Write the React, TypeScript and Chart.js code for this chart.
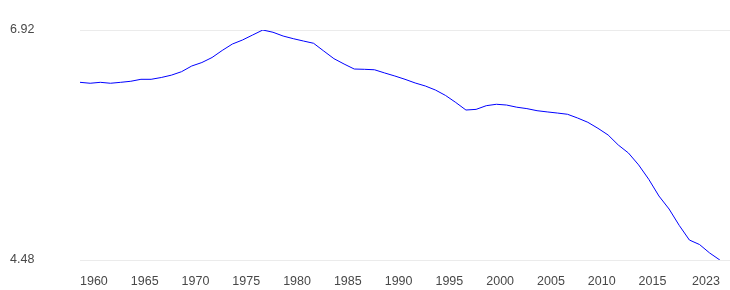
import React, { useEffect, useRef } from "react";
import { Chart, registerables } from "chart.js";

Chart.register(...registerables);

const years = [
  1960, 1961, 1962, 1963, 1964, 1965, 1966, 1967, 1968, 1969,
  1970, 1971, 1972, 1973, 1974, 1975, 1976, 1977, 1978, 1979,
  1980, 1981, 1982, 1983, 1984, 1985, 1986, 1987, 1988, 1989,
  1990, 1991, 1992, 1993, 1994, 1995, 1996, 1997, 1998, 1999,
  2000, 2001, 2002, 2003, 2004, 2005, 2006, 2007, 2008, 2009,
  2010, 2011, 2012, 2013, 2014, 2015, 2016, 2017, 2018, 2019,
  2020, 2021, 2022, 2023,
];

const values = [
  6.365, 6.355, 6.365, 6.355, 6.365, 6.376, 6.397, 6.397, 6.416, 6.441,
  6.478, 6.538, 6.575, 6.628, 6.703, 6.771, 6.814, 6.867, 6.92, 6.896,
  6.856, 6.828, 6.803, 6.779, 6.697, 6.616, 6.559, 6.506, 6.503, 6.498,
  6.464, 6.432, 6.397, 6.358, 6.326, 6.283, 6.225, 6.151, 6.071, 6.078,
  6.117, 6.132, 6.124, 6.101, 6.086, 6.064, 6.051, 6.039, 6.026, 5.986,
  5.941, 5.877, 5.806, 5.70, 5.615, 5.489, 5.336, 5.159, 5.021, 4.847,
  4.692, 4.644, 4.554, 4.48,
];

const xTickYears = [1960, 1965, 1970, 1975, 1980, 1985, 1990, 1995, 2000, 2005, 2010, 2015, 2023];
const yTickValues = [4.48, 6.92];

const FONT = 'Arial, "Liberation Sans", sans-serif';

const lastLabelRight = {
  id: "lastLabelRight",
  beforeDraw(chart: any) {
    const scale = chart.scales.x;
    if (!scale || typeof scale.getLabelItems !== "function") return;
    const items = scale.getLabelItems();
    if (items && items.length) {
      items[items.length - 1].options.textAlign = "right";
    }
  },
};

export default function App() {
  const ref = useRef<HTMLCanvasElement | null>(null);

  useEffect(() => {
    if (!ref.current) return;
    const chart = new Chart(ref.current, {
      type: "line",
      data: {
        datasets: [
          {
            data: years.map((y, i) => ({ x: y, y: values[i] })),
            borderColor: "#0000ff",
            borderWidth: 1,
            pointRadius: 0,
            pointHoverRadius: 0,
            tension: 0,
            fill: false,
          },
        ],
      },
      options: {
        animation: false,
        responsive: true,
        maintainAspectRatio: false,
        layout: { padding: { left: 10, right: 0, top: 30, bottom: 0 } },
        plugins: { legend: { display: false }, tooltip: { enabled: false } },
        scales: {
          x: {
            type: "linear",
            min: 1960,
            max: 2024,
            afterBuildTicks: (scale: any) => {
              scale.ticks = xTickYears.map((v) => ({ value: v }));
            },
            afterFit: (scale: any) => {
              scale.height = 30;
              scale.paddingLeft = 0;
              scale.paddingRight = 0;
            },
            ticks: {
              align: "start",
              maxRotation: 0,
              autoSkip: false,
              padding: 14,
              color: "#484848",
              font: { family: FONT, size: 12.5 },
              callback: (v: any) => String(v),
            },
            grid: { display: false, drawTicks: false },
            border: { display: false },
          },
          y: {
            min: 4.48,
            max: 6.92,
            afterBuildTicks: (scale: any) => {
              scale.ticks = yTickValues.map((v) => ({ value: v }));
            },
            afterFit: (scale: any) => {
              scale.width = 70;
              scale.paddingTop = 0;
              scale.paddingBottom = 0;
            },
            ticks: {
              crossAlign: "far",
              padding: 0,
              color: "#484848",
              font: { family: FONT, size: 12.5 },
              callback: (v: any) => Number(v).toFixed(2),
            },
            grid: { color: "#ebebeb", lineWidth: 1, drawTicks: false },
            border: { display: false },
          },
        },
      },
      plugins: [lastLabelRight],
    });
    return () => chart.destroy();
  }, []);

  return (
    <div style={{ position: "absolute", left: 0, top: 0, width: 730, height: 290 }}>
      <canvas ref={ref} />
    </div>
  );
}
